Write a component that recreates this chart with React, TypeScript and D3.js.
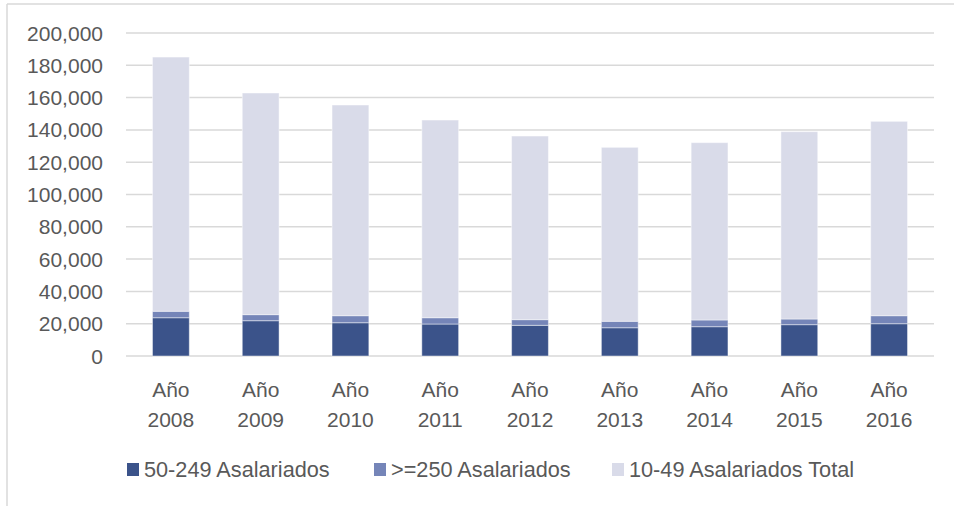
import React from "react";
import * as d3 from "d3";

const categories = ["2008", "2009", "2010", "2011", "2012", "2013", "2014", "2015", "2016"];
const mediumCompanies = [23700, 21850, 20600, 19800, 19000, 17500, 18150, 19400, 20000];
const largeCompanies = [4000, 3750, 4350, 3900, 3500, 4000, 4150, 3500, 4950];
const totals = [185100, 162850, 155400, 146100, 136200, 129200, 132100, 138900, 145300];
const smallCompanies = totals.map((t, i) => t - mediumCompanies[i] - largeCompanies[i]);
const yTicks = [0, 20000, 40000, 60000, 80000, 100000, 120000, 140000, 160000, 180000, 200000];
const seriesNames = ["50-249 Asalariados", ">=250 Asalariados", "10-49 Asalariados Total"];
const seriesColors = ["#3B538A", "#7585B8", "#D9DBE9"];

const W = 954;
const H = 506;
const FONT = "'Liberation Sans', Arial, sans-serif";
const TEXT = "#595959";

export default function App() {
  const x = d3.scaleBand<string>().domain(categories).range([126, 934]).paddingInner(0.59).paddingOuter(0.295);
  const y = d3.scaleLinear().domain([0, 200000]).range([356, 33]);
  const fmt = d3.format(",");

  const rows = categories.map((c, i) => ({
    c,
    m: mediumCompanies[i],
    l: largeCompanies[i],
    s: smallCompanies[i],
  }));
  const stack = d3.stack<any>().keys(["m", "l", "s"])(rows);

  const legendX = [127, 374, 612];

  return (
    <svg width={W} height={H} style={{ position: "absolute", left: 0, top: 0, background: "#fff" }}>
      <line x1={7} y1={4} x2={W} y2={4} stroke="#d9d9d9" strokeWidth={1.5} />
      <line x1={7} y1={4} x2={7} y2={H} stroke="#d9d9d9" strokeWidth={1.5} />
      {yTicks.map((t) => (
        <g key={t}>
          <line x1={126} x2={934} y1={y(t)} y2={y(t)} stroke="#d9d9d9" strokeWidth={1.5} />
          <text x={103} y={y(t)} dy="0.36em" textAnchor="end" fontFamily={FONT} fontSize={21} fill={TEXT}>
            {fmt(t)}
          </text>
        </g>
      ))}
      {stack.map((layer, li) => (
        <g key={li} fill={seriesColors[li]}>
          {layer.map((d: any, i: number) => (
            <rect
              key={i}
              x={x(categories[i])}
              width={x.bandwidth()}
              y={y(d[1])}
              height={y(d[0]) - y(d[1])}
              stroke="#ffffff"
              strokeOpacity={0.45}
              strokeWidth={1}
            />
          ))}
        </g>
      ))}
      {categories.map((c) => (
        <text key={c} x={(x(c) as number) + x.bandwidth() / 2} textAnchor="middle" fontFamily={FONT} fontSize={21} fill={TEXT}>
          <tspan x={(x(c) as number) + x.bandwidth() / 2} y={396.5}>Año</tspan>
          <tspan x={(x(c) as number) + x.bandwidth() / 2} y={426.5}>{c}</tspan>
        </text>
      ))}
      {seriesNames.map((n, i) => (
        <g key={n}>
          <rect x={legendX[i]} y={463} width={12} height={13} fill={seriesColors[i]} />
          <text x={legendX[i] + 17} y={477} fontFamily={FONT} fontSize={21.7} fill={TEXT}>
            {n}
          </text>
        </g>
      ))}
    </svg>
  );
}
